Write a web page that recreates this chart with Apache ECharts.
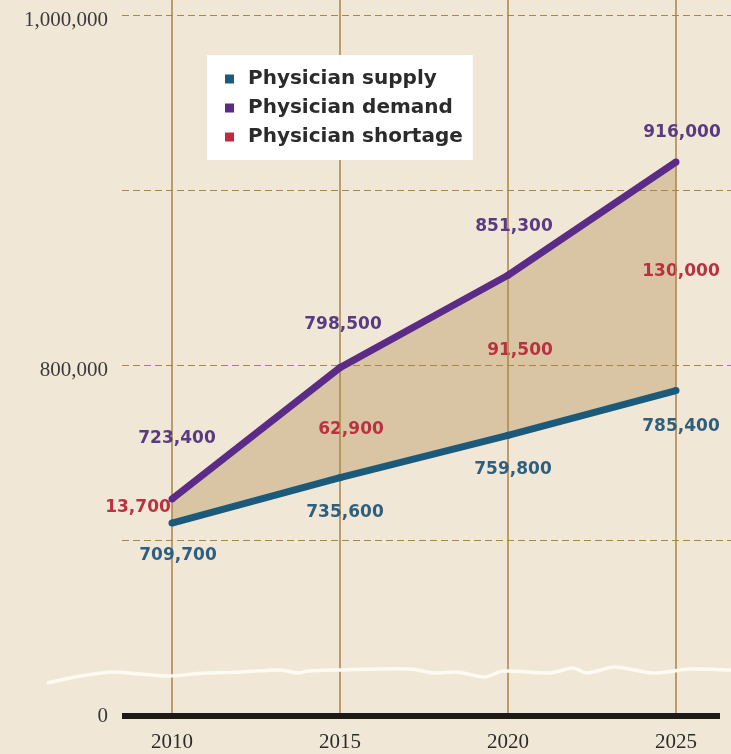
<!DOCTYPE html>
<html>
<head>
<meta charset="utf-8">
<script src="https://cdn.jsdelivr.net/npm/echarts@6/dist/echarts.min.js"></script>
<style>
html,body{margin:0;padding:0;background:#f1e7d7;}
#chart{width:731px;height:754px;}
</style>
</head>
<body>
<div id="chart"></div>
<script>
// ---- data ----
const years = [2010, 2015, 2020, 2025];
const supply = [709700, 735600, 759800, 785400];
const demand = [723400, 798500, 851300, 916000];
const shortage = [13700, 62900, 91500, 130000];
const yLabelValues = [800000, 1000000];
const yGridValues = [700000, 800000, 900000, 1000000];
const zeroLabel = [0];

// ---- label placement (styling) ----
const supplyOffsets = [[6, 33], [5, 35], [5, 34], [5, 36]];
const demandOffsets = [[5, -60], [3, -43], [6, -49], [6, -29]];
const shortageOffsets = [[-34, 9], [11, 62], [12, 75], [5, 110]];

const fmt = v => v.toLocaleString('en-US');

const C_SUPPLY = '#1c5a7b';
const C_DEMAND = '#5c2b87';
const C_SHORT = '#bf2a3c';
const LBL_FONT = {fontFamily: 'DejaVu Sans', fontWeight: 'bold', fontSize: 17};

const chart = echarts.init(document.getElementById('chart'), null, {renderer: 'canvas'});

function renderBand(params, api) {
  const i = params.dataIndex;
  const children = [];
  if (i === 0) {
    const pts = [];
    for (let k = 0; k < years.length; k++) pts.push(api.coord([years[k], demand[k]]));
    for (let k = years.length - 1; k >= 0; k--) pts.push(api.coord([years[k], supply[k]]));
    children.push({
      type: 'polygon', z2: 0,
      shape: {points: pts},
      style: {fill: '#d9c5a4', stroke: null}
    });
  }
  const p = api.coord([api.value(0), api.value(2)]);
  children.push({
    type: 'text', z2: 10,
    x: p[0] + shortageOffsets[i][0], y: p[1] + shortageOffsets[i][1],
    style: {text: fmt(shortage[i]), fill: '#b8323f', align: 'center', verticalAlign: 'middle',
      font: 'bold 17px "DejaVu Sans"'}
  });
  return {type: 'group', children};
}

const option = {
  backgroundColor: '#f1e7d7',
  animation: false,
  grid: [
    {left: 122, right: 0, top: 0, bottom: 39},
    {left: 122, right: 11, top: 0, bottom: 38}
  ],
  xAxis: [
    {
      type: 'value', gridIndex: 0, min: 2008.512, max: 2026.637, z: 2,
      axisLine: {show: false},
      axisTick: {show: false, customValues: years},
      axisLabel: {customValues: years, margin: 17, color: '#2b2b2b',
        fontFamily: 'Liberation Serif', fontSize: 21, formatter: v => String(v)},
      splitLine: {show: true, lineStyle: {color: '#a8854a', width: 1.5}}
    },
    {
      type: 'value', gridIndex: 1, min: 0, max: 1, z: 4,
      axisLine: {show: true, lineStyle: {color: '#1d1916', width: 6, cap: 'butt'}},
      axisTick: {show: false}, axisLabel: {show: false}, splitLine: {show: false}
    }
  ],
  yAxis: [
    {
      type: 'value', gridIndex: 0, min: 600000, max: 1008571, z: 2,
      axisLine: {show: false},
      axisTick: {show: false, customValues: yGridValues},
      axisLabel: {customValues: yLabelValues, margin: 14, color: '#3a3a3a',
        fontFamily: 'Liberation Serif', fontSize: 21, verticalAlign: 'top', lineHeight: 10,
        formatter: v => fmt(v)},
      splitLine: {show: true, lineStyle: {color: '#a8854a', width: 1, type: [7, 4]}}
    },
    {
      type: 'value', gridIndex: 1, min: 0, max: 1,
      axisLine: {show: false}, axisTick: {show: false},
      axisLabel: {customValues: zeroLabel, margin: 14, color: '#3a3a3a',
        fontFamily: 'Liberation Serif', fontSize: 21, formatter: v => String(v)},
      splitLine: {show: false}
    }
  ],
  legend: {
    orient: 'vertical', left: 207, top: 55,
    backgroundColor: '#ffffff',
    padding: [14, 10, 13, 18],
    itemWidth: 9, itemHeight: 9, itemGap: 9,
    icon: 'rect',
    selectedMode: false,
    textStyle: {fontFamily: 'DejaVu Sans', fontWeight: 'bold', fontSize: 20, lineHeight: 20,
      color: '#2b2b2b', padding: [0, 0, 0, 9]},
    data: [
      {name: 'Physician supply', itemStyle: {color: C_SUPPLY}},
      {name: 'Physician demand', itemStyle: {color: C_DEMAND}},
      {name: 'Physician shortage', itemStyle: {color: C_SHORT}}
    ]
  },
  graphic: [{
    type: 'polyline', z: 5, silent: true,
    shape: {
      smooth: 0.3,
      points: [[47,683],[75,677],[112,672],[140,674],[168,676],[205,673],[242,672],[280,670],[298,673],[308,671],[336,670],[410,669],[434,673],[457,672],[485,677],[503,671],[550,673],[573,668],[587,673],[615,667],[653,673],[690,669],[731,670]]
    },
    style: {stroke: '#fdfaf2', lineWidth: 3.5, fill: null}
  }],
  series: [
    {
      name: 'Physician shortage', type: 'custom', xAxisIndex: 0, yAxisIndex: 0,
      renderItem: renderBand,
      itemStyle: {color: C_SHORT},
      encode: {x: 0, y: [1, 2]},
      data: years.map((y, i) => [y, supply[i], demand[i]]),
      clip: false,
      z: 1, silent: true
    },
    {
      name: 'Physician supply', type: 'line', xAxisIndex: 0, yAxisIndex: 0,
      data: years.map((y, i) => ({value: [y, supply[i]], label: {offset: supplyOffsets[i]}})),
      symbol: 'circle', symbolSize: 7, itemStyle: {color: C_SUPPLY},
      lineStyle: {color: C_SUPPLY, width: 7},
      label: {show: true, position: 'inside', color: '#2e5f7f', ...LBL_FONT,
        formatter: p => fmt(p.value[1])},
      z: 3
    },
    {
      name: 'Physician demand', type: 'line', xAxisIndex: 0, yAxisIndex: 0,
      data: years.map((y, i) => ({value: [y, demand[i]], label: {offset: demandOffsets[i]}})),
      symbol: 'circle', symbolSize: 7, itemStyle: {color: C_DEMAND},
      lineStyle: {color: C_DEMAND, width: 7},
      label: {show: true, position: 'inside', color: '#5a3a82', ...LBL_FONT,
        formatter: p => fmt(p.value[1])},
      z: 3
    }
  ]
};
chart.setOption(option);
</script>
</body>
</html>
